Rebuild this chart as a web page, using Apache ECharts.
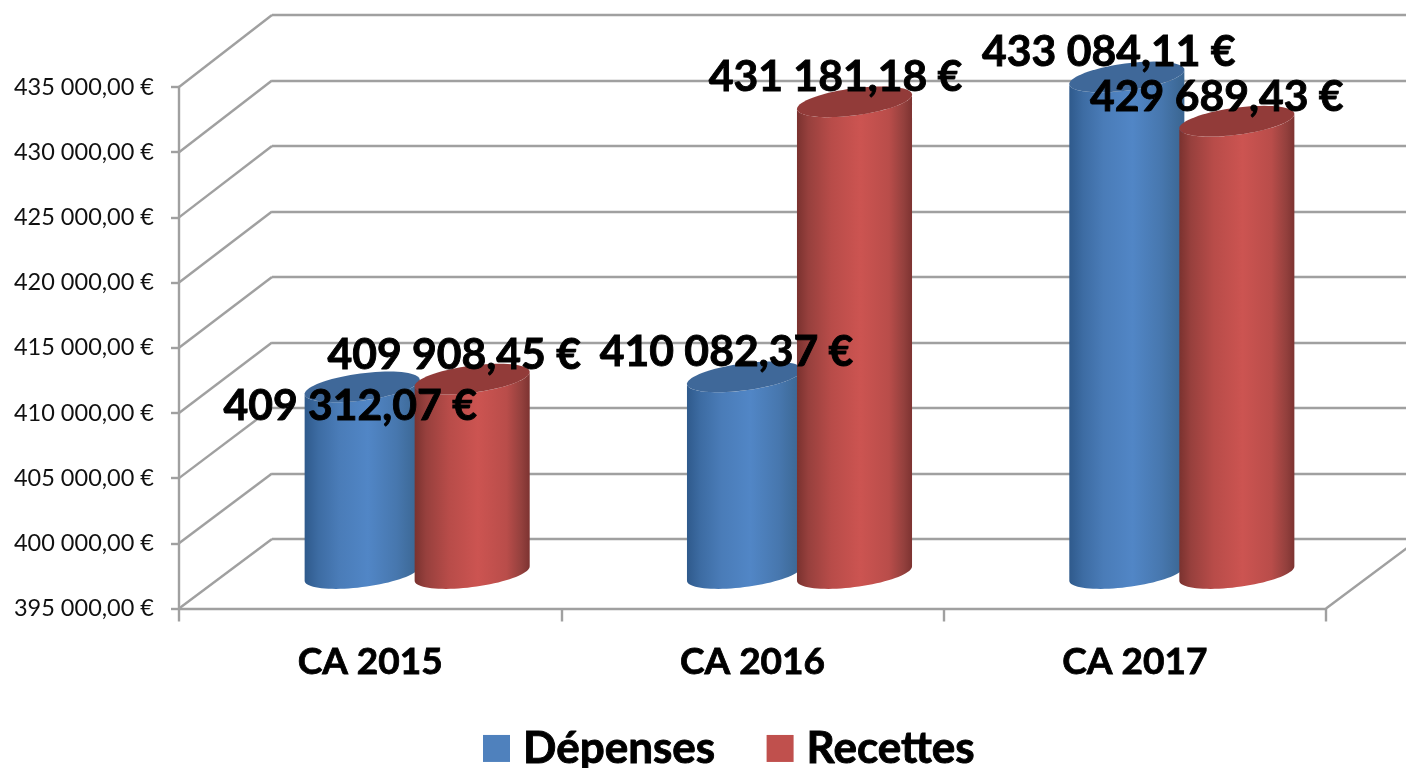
<!DOCTYPE html>
<html><head><meta charset="utf-8">
<style>html,body{margin:0;padding:0;background:#fff}#c{width:1406px;height:768px}</style>
<script src="https://cdn.jsdelivr.net/npm/echarts@6/dist/echarts.min.js"></script>
</head><body><div id="c"></div>
<script>
const categories = ['CA 2015','CA 2016','CA 2017'];
const depenses = [409312.07, 410082.37, 433084.11];
const recettes = [409908.45, 431181.18, 429689.43];
const yMin = 395000, yMax = 435000, yStep = 5000;

const FONT = 'Lato, Carlito, sans-serif';
const GRAY = '#a0a0a0';
const DEPTH_X = 47, DEPTH_Y = -35, SIDE = 55;
const A = 58, B = 13.5, TILT = 7.5 * Math.PI / 180;

const chart = echarts.init(document.getElementById('c'), null, {renderer:'canvas'});

function fmt(v){
  const s = v.toFixed(2).split('.');
  return s[0].replace(/\B(?=(\d{3})+$)/g,' ') + ',' + s[1] + ' €';
}
function pt(c, t){
  return [c[0] + A*Math.cos(t)*Math.cos(TILT) + B*Math.sin(t)*Math.sin(TILT),
          c[1] - A*Math.cos(t)*Math.sin(TILT) + B*Math.sin(t)*Math.cos(TILT)];
}
const T0 = Math.atan(B/A*Math.tan(TILT));
function arc(c, from, to, n){
  const out=[]; for(let i=0;i<=n;i++) out.push(pt(c, from+(to-from)*i/n)); return out;
}
function grad(stops){
  return {type:'linear',x:0,y:0,x2:1,y2:0,colorStops:stops.map(s=>({offset:s[0],color:s[1]}))};
}
const looks = {
  blue:{ body:grad([[0,'#2f5a8c'],[0.12,'#3d6ca3'],[0.3,'#4a7cb8'],[0.55,'#5186c6'],[0.8,'#4777ae'],[1,'#3a6590']]), top:'#3f6899' },
  red:{ body:grad([[0,'#7a322f'],[0.1,'#97403d'],[0.3,'#b84c49'],[0.55,'#cc5451'],[0.8,'#b94d4a'],[0.93,'#93403d'],[1,'#7d3331']]), top:'#923b39' }
};
function cylinder(look, sign){
  return function(params, api){
    const cat = api.value(0), val = api.value(1);
    const b = api.coord([cat, yMin]), t = api.coord([cat, val]);
    const cx = b[0] + DEPTH_X + sign*SIDE;
    const base = [cx, b[1] + DEPTH_Y], top = [cx, t[1] + DEPTH_Y];
    const body = arc(base, T0, T0+Math.PI, 40).concat(arc(top, T0+Math.PI, T0, 40));
    return {type:'group',children:[
      {type:'polygon',shape:{points:body},style:{fill:look.body}},
      {type:'polygon',shape:{points:arc(top,0,Math.PI*2,72)},style:{fill:look.top}}
    ]};
  };
}
const labelShift = [[-12,19],[-18,-24],[-18,-25],[-19,-25],[-18,-25],[-20,-24]];
const labelData = [];
categories.forEach((c,i)=>{
  labelData.push([i, depenses[i], -1]);
  labelData.push([i, recettes[i], 1]);
});
function labelItem(params, api){
  const cat=api.value(0), val=api.value(1), sign=api.value(2);
  const t=api.coord([cat,val]);
  const s=labelShift[params.dataIndex];
  return {type:'text',style:{
    x:t[0]+DEPTH_X+sign*SIDE+s[0], y:t[1]+DEPTH_Y+s[1],
    text:fmt(val), align:'center', verticalAlign:'middle',
    fill:'#000', stroke:'#000', lineWidth:0.9, font:'700 42.7px '+FONT
  }};
}
const levels=[]; for(let v=yMin;v<=yMax;v+=yStep) levels.push(v);
function diagonal(params, api){
  const v=api.value(0);
  const f=api.coord([0,v]);
  const fy=f[1], fx=params.coordSys.x;
  const by=chart.convertToPixel({yAxisIndex:1},v);
  const bx=chart.convertToPixel({xAxisIndex:1},0) - (chart.convertToPixel({xAxisIndex:1},1)-chart.convertToPixel({xAxisIndex:1},0))/2;
  return {type:'line',shape:{x1:fx,y1:fy,x2:bx,y2:by},style:{stroke:GRAY,lineWidth:2.4}};
}
function floorRight(params, api){
  const f=api.coord([categories.length-1,yMin]);
  const bw=params.coordSys.width;
  const x1=params.coordSys.x+bw;
  const by=chart.convertToPixel({yAxisIndex:1},yMin);
  const bx=x1+(272-params.coordSys.x);
  return {type:'line',shape:{x1:x1,y1:f[1],x2:bx,y2:by},style:{stroke:GRAY,lineWidth:2.4}};
}

chart.setOption({
  animation:false,
  backgroundColor:'#fff',
  textStyle:{fontFamily:FONT},
  grid:[
    {left:179,width:1147,top:87,height:521.5},
    {left:272,width:1147,top:15,height:524}
  ],
  xAxis:[
    {type:'category',gridIndex:0,data:categories,
      axisLine:{lineStyle:{color:GRAY,width:2.4}},
      axisTick:{show:true,length:13,alignWithLabel:false,lineStyle:{color:GRAY,width:2.4}},
      axisLabel:{color:'#000',fontWeight:700,fontSize:37,fontFamily:FONT,margin:35,textBorderColor:'#000',textBorderWidth:0.8}},
    {type:'category',gridIndex:1,data:categories,show:false}
  ],
  yAxis:[
    {type:'value',gridIndex:0,min:yMin,max:yMax,interval:yStep,
      axisLine:{show:true,lineStyle:{color:GRAY,width:2.4}},
      axisTick:{show:true,length:8,lineStyle:{color:GRAY,width:2.4}},
      splitLine:{show:false},
      axisLabel:{color:'#111',fontSize:23.5,fontFamily:FONT,margin:25,padding:[3,0,0,0],formatter:v=>fmt(v)}},
    {type:'value',gridIndex:1,min:yMin,max:yMax,interval:yStep,
      axisLine:{show:false},axisTick:{show:false},axisLabel:{show:false},
      splitLine:{show:true,lineStyle:{color:GRAY,width:2.4}}}
  ],
  legend:{
    left:478,top:721,itemWidth:27,itemHeight:27,itemGap:51,icon:'rect',
    data:['Dépenses','Recettes'],
    textStyle:{color:'#000',fontWeight:700,fontSize:44,fontFamily:FONT,padding:[0,0,0,8],textBorderColor:'#000',textBorderWidth:0.9}
  },
  series:[
    {type:'custom',name:'walls',silent:true,clip:false,z:1,xAxisIndex:0,yAxisIndex:0,
      data:levels.map(v=>[v]),encode:{y:0},renderItem:diagonal},
    {type:'custom',name:'floor',silent:true,clip:false,z:1,xAxisIndex:0,yAxisIndex:0,
      data:[[yMin]],encode:{y:0},renderItem:floorRight},
    {type:'custom',name:'Dépenses',silent:true,clip:false,z:3,xAxisIndex:0,yAxisIndex:0,
      itemStyle:{color:'#4f81bd'},
      data:categories.map((c,i)=>[i,depenses[i]]),encode:{x:0,y:1},renderItem:cylinder(looks.blue,-1)},
    {type:'custom',name:'Recettes',silent:true,clip:false,z:4,xAxisIndex:0,yAxisIndex:0,
      itemStyle:{color:'#c0504d'},
      data:categories.map((c,i)=>[i,recettes[i]]),encode:{x:0,y:1},renderItem:cylinder(looks.red,1)},
    {type:'custom',name:'values',silent:true,clip:false,z:6,xAxisIndex:0,yAxisIndex:0,
      data:labelData,encode:{x:0,y:1},renderItem:labelItem}
  ]
});
</script></body></html>
